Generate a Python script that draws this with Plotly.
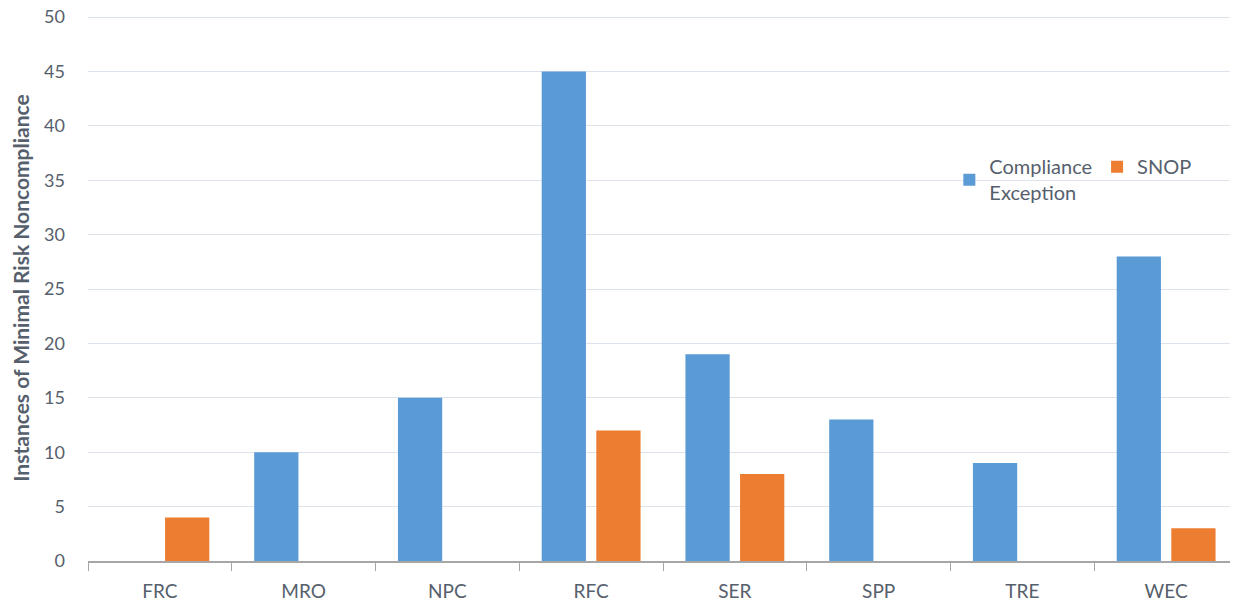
import plotly.graph_objects as go

categories = ["FRC", "MRO", "NPC", "RFC", "SER", "SPP", "TRE", "WEC"]
compliance_exception = [0, 10, 15, 45, 19, 13, 9, 28]
snop = [4, 0, 0, 12, 8, 0, 0, 3]
y_ticks = [0, 5, 10, 15, 20, 25, 30, 35, 40, 45, 50]

font_family = "Lato, 'Open Sans', sans-serif"
text_color = "#56606c"

fig = go.Figure()
fig.add_trace(go.Bar(
    x=categories, y=compliance_exception, name="Compliance<br>Exception",
    marker=dict(color="#5b9bd5", line=dict(width=0)),
))
fig.add_trace(go.Bar(
    x=categories, y=snop, name="SNOP",
    marker=dict(color="#ed7d31", line=dict(width=0)),
))

fig.update_layout(
    width=1230, height=594,
    margin=dict(l=80, r=0, t=7, b=41),
    plot_bgcolor="white", paper_bgcolor="white",
    barmode="group", bargap=0.24, bargroupgap=0.19,
    font=dict(family=font_family, size=18, color=text_color),
    legend=dict(
        orientation="h", x=0.749, y=0.758, xanchor="left", yanchor="top",
        font=dict(size=20, color=text_color), bgcolor="rgba(0,0,0,0)",
        itemwidth=30, tracegroupgap=0,
    ),
    xaxis=dict(
        type="category", showgrid=False, showline=True, linecolor="#a6a6a6", linewidth=1.5,
        ticks="outside", tickson="boundaries", ticklen=8, tickcolor="#a6a6a6",
        tickfont=dict(size=19, color=text_color), ticklabelstandoff=12,
        automargin=False,
    ),
    yaxis=dict(
        range=[0, 50.2], tickvals=y_ticks, showgrid=True, gridcolor="#dde3ea", gridwidth=1,
        zeroline=False, tickfont=dict(size=18, color=text_color), ticklabelstandoff=22,
        automargin=False, ticklabeloverflow="allow",
        title=dict(text="<b>Instances of Minimal Risk Noncompliance</b>",
                   font=dict(size=21, color=text_color), standoff=10),
    ),
)

fig.write_html("out.html")
